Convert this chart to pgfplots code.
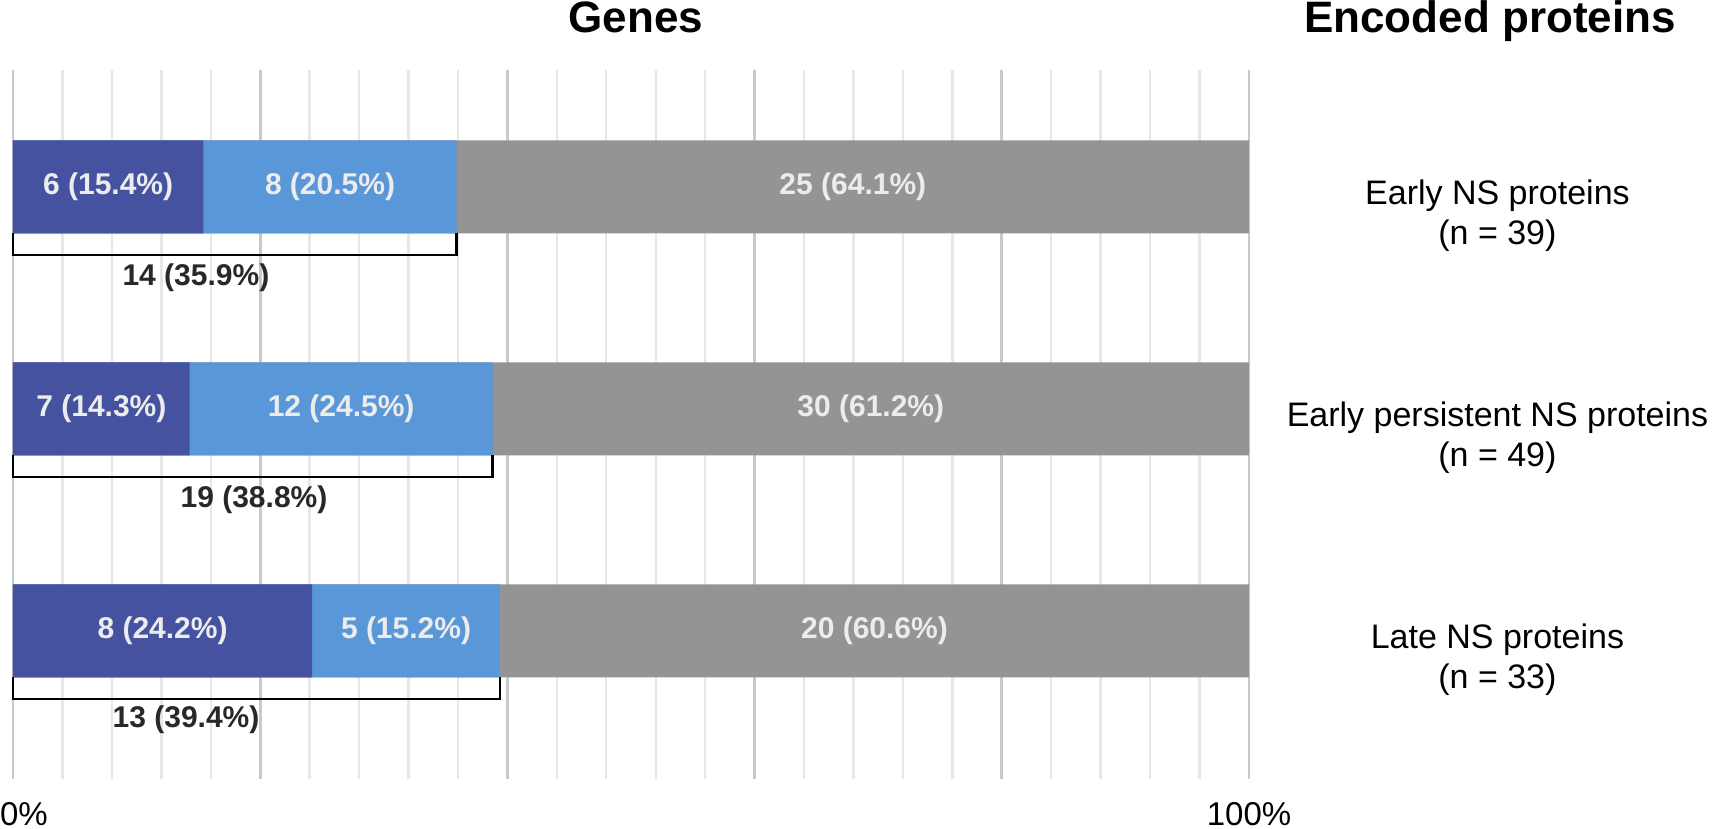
\documentclass[border=0pt]{standalone}
\usepackage{pgfplots}
\usepackage{pgfplotstable}
\pgfplotsset{compat=1.18}
\usepackage{fontspec}
\setmainfont{Liberation Sans}

\definecolor{cDark}{RGB}{69,82,160}
\definecolor{cLight}{RGB}{90,151,216}
\definecolor{cGray}{RGB}{148,148,148}
\definecolor{cLab}{RGB}{236,236,236}
\definecolor{cBr}{RGB}{40,40,40}
\definecolor{cMajor}{RGB}{201,201,201}
\definecolor{cMinor}{RGB}{231,231,231}

% percentages and counts per group (0 = early, 1 = early persistent, 2 = late)
\pgfplotstableread{
cat d l g nd nl ng
0 15.4 20.5 64.1 6 8 25
1 14.3 24.5 61.2 7 12 30
2 24.2 15.2 60.6 8 5 20
}\data

\pgfplotsset{
  seg/.style={xbar, bar shift=0pt, draw=none, fill=#1},
  seglab/.style 2 args={scatter, only marks, mark=*, mark size=0pt,
    scatter/@pre marker code/.code={%
      \node[text=cLab, font=\fontsize{15}{18}\selectfont\bfseries]
        {\pgfmathprintnumber[fixed,precision=0]{\cnt}\ (\pgfmathprintnumber[fixed,fixed zerofill,precision=1]{\pct}\%)};},
    scatter/@post marker code/.code={},
    visualization depends on={\thisrow{#1} \as \pct},
    visualization depends on={\thisrow{#2} \as \cnt}},
}

\begin{document}
\begin{tikzpicture}
\path[use as bounding box] (-6.5pt,-25pt) rectangle (850pt,389.5pt);
\begin{axis}[
  at={(0,0)}, anchor=south west,
  scale only axis, width=618pt, height=354.5pt,
  bar width=46.5pt,
  xmin=0, xmax=100, ymin=-0.527, ymax=2.667, y dir=reverse,
  ytick=\empty,
  xtick={0,20,...,100},
  xticklabels={\makebox[0pt][l]{\hspace{-6.5pt}0\%},,,,,100\%},
  minor x tick num=4,
  xmajorgrids, xminorgrids,
  major grid style={cMajor, line width=1.4pt},
  minor grid style={cMinor, line width=1.2pt},
  axis line style={draw=none},
  major tick length=0pt, minor tick length=0pt,
  xticklabel style={anchor=base, yshift=-23pt, font=\fontsize{16.5}{19}\selectfont},
  /pgf/number format/assume math mode=true,
  clip=false,
]
% segments laid over each other: gray to 100, light to dark+light, dark on top
\addplot[seg=cGray]  table[x expr=\thisrow{d}+\thisrow{l}+\thisrow{g}, y=cat] {\data};
\addplot[seg=cLight] table[x expr=\thisrow{d}+\thisrow{l}, y=cat] {\data};
\addplot[seg=cDark]  table[x=d, y=cat] {\data};

\addplot[seglab={d}{nd}] table[x expr=\thisrow{d}/2, y=cat] {\data};
\addplot[seglab={l}{nl}] table[x expr=\thisrow{d}+\thisrow{l}/2, y=cat] {\data};
\addplot[seglab={g}{ng}] table[x expr=\thisrow{d}+\thisrow{l}+\thisrow{g}/2, y=cat] {\data};

% brackets: dark + light
\draw[line width=1.25pt] (axis cs:0,0.209) |- (axis cs:35.9,0.306) -- (axis cs:35.9,0.209);
\draw[line width=1.25pt] (axis cs:0,1.209) |- (axis cs:38.8,1.306) -- (axis cs:38.8,1.209);
\draw[line width=1.25pt] (axis cs:0,2.209) |- (axis cs:39.4,2.306) -- (axis cs:39.4,2.209);
\begin{scope}[every node/.style={text=cBr, font=\fontsize{15}{18}\selectfont\bfseries}]
\node at (axis cs:14.8,0.41) {14 (35.9\%)};
\node at (axis cs:19.5,1.41) {19 (38.8\%)};
\node at (axis cs:14.0,2.40) {13 (39.4\%)};
\end{scope}

\begin{scope}[every node/.style={anchor=base, font=\fontsize{17}{20}\selectfont}]
\node at (axis cs:120.1,0.081) {Early NS proteins};
\node at (axis cs:120.1,0.261) {(n = 39)};
\node at (axis cs:120.1,1.081) {Early persistent NS proteins};
\node at (axis cs:120.1,1.261) {(n = 49)};
\node at (axis cs:120.1,2.081) {Late NS proteins};
\node at (axis cs:120.1,2.261) {(n = 33)};
\end{scope}
\end{axis}
\node[anchor=base, font=\fontsize{22}{26}\selectfont\bfseries] at (311.5pt,373pt) {Genes};
\node[anchor=base, font=\fontsize{22}{26}\selectfont\bfseries] at (738.5pt,373pt) {Encoded proteins};
\end{tikzpicture}
\end{document}
